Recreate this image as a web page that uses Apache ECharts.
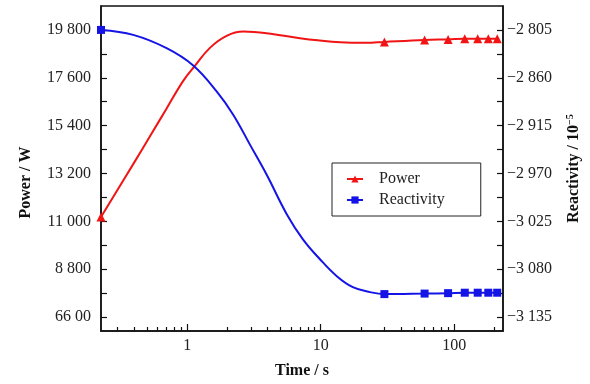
<!DOCTYPE html>
<html>
<head>
<meta charset="utf-8">
<script src="https://cdn.jsdelivr.net/npm/echarts@6/dist/echarts.min.js"></script>
<style>
  html, body { margin: 0; padding: 0; background: #fff; }
  #main { width: 590px; height: 384px; }
</style>
</head>
<body>
<div id="main"></div>
<script>
// Time samples (s)
const powerTime = [0.226, 0.394, 0.526, 0.701, 0.933, 1.142, 1.479, 1.973, 2.63, 3.93, 6.99, 9.5, 14, 22, 30, 60, 90, 120, 150, 180, 210];
const powerValues = [11200, 13630, 14910, 16190, 17460, 18150, 18975, 19525, 19722, 19650, 19420, 19320, 19230, 19205, 19250, 19340, 19365, 19390, 19390, 19390, 19390];

const reactTime = [0.226, 0.394, 0.701, 1.109, 1.661, 2.21, 2.95, 3.93, 5.58, 7.36, 9.87, 13.2, 17.4, 23.4, 30, 60, 90, 120, 150, 180, 210];
const reactValues = [-2805, -2810.7, -2826, -2845.9, -2875.7, -2902.4, -2936.8, -2971.1, -3017, -3045.6, -3068.5, -3088, -3100.6, -3106.3, -3108.6, -3108, -3107.5, -3107, -3107, -3107, -3107];

// times that carry a marker
const markerTimes = [0.226, 30, 60, 90, 120, 150, 180, 210];

const xMajorTicks = [1, 10, 100];
const xMajorLabels = ['1', '10', '100'];
const xMinorTicks = [0.3, 0.4, 0.5, 0.6, 0.7, 0.8, 0.9, 2, 3, 4, 5, 6, 7, 8, 9, 20, 30, 40, 50, 60, 70, 80, 90, 200];

const powerTicks = [6600, 8800, 11000, 13200, 15400, 17600, 19800];
const powerLabels = ['66 00', '8 800', '11 000', '13 200', '15 400', '17 600', '19 800'];
const powerMinorTicks = [7700, 9900, 12100, 14300, 16500, 18700];

const reactTicks = [-3135, -3080, -3025, -2970, -2915, -2860, -2805];
const reactLabels = ['\u22123 135', '\u22123 080', '\u22123 025', '\u22122 970', '\u22122 915', '\u22122 860', '\u22122 805'];
const reactMinorTicks = [-3107.5, -3052.5, -2997.5, -2942.5, -2887.5, -2832.5];

const RED = '#f01414';
const BLUE = '#1414e6';
const FONT = 'Liberation Serif';

const toData = (times, values) =>
  times.map((t, i) => ({
    value: [t, values[i]],
    symbol: markerTimes.includes(t) ? undefined : 'none',
  }));

const chart = echarts.init(document.getElementById('main'), null, { renderer: 'canvas' });

const axisLabelStyle = { fontFamily: FONT, fontSize: 16, color: '#222' };

const option = {
  animation: false,
  backgroundColor: '#fff',
  grid: {
    left: 101,
    right: 87,
    top: 6,
    bottom: 52,
    show: true,
    borderColor: '#111',
    borderWidth: 1.5,
  },
  legend: {
    orient: 'vertical',
    left: 332,
    top: 163,
    padding: [8, 36, 8, 14],
    borderColor: '#222',
    borderWidth: 1,
    itemWidth: 16,
    itemHeight: 9,
    itemGap: 5,
    textStyle: { fontFamily: FONT, fontSize: 16, color: '#222', padding: [0, 0, 0, 11], lineHeight: 16 },
    data: ['Power', 'Reactivity'],
  },
  xAxis: [
    {
      type: 'log',
      min: 0.226,
      max: 232,
      name: 'Time / s',
      nameLocation: 'middle',
      nameGap: 32,
      nameTextStyle: { fontFamily: FONT, fontSize: 16, fontWeight: 'bold', color: '#111' },
      axisLine: { lineStyle: { color: '#111', width: 1.5 } },
      axisTick: { inside: true, length: 7, customValues: xMajorTicks, lineStyle: { color: '#111', width: 1.2 } },
      axisLabel: {
        ...axisLabelStyle,
        margin: 7,
        customValues: xMajorTicks,
        formatter: (v) => xMajorLabels[xMajorTicks.indexOf(Math.round(v))] ?? '',
      },
      splitLine: { show: false },
      minorTick: { show: false },
    },
    {
      type: 'log',
      min: 0.226,
      max: 232,
      position: 'bottom',
      axisLine: { show: false },
      axisTick: { inside: true, length: 4, customValues: xMinorTicks, lineStyle: { color: '#111', width: 1.2 } },
      axisLabel: { show: false },
      splitLine: { show: false },
    },
  ],
  yAxis: [
    {
      type: 'value',
      min: 5958,
      max: 20900,
      position: 'left',
      name: 'Power / W',
      nameLocation: 'middle',
      nameRotate: 90,
      nameGap: 67,
      nameTextStyle: { fontFamily: FONT, fontSize: 16, fontWeight: 'bold', color: '#111', padding: [0, 28, 0, 0] },
      axisLine: { show: true, lineStyle: { color: '#111', width: 1.5 } },
      axisTick: { show: true, inside: true, length: 6, customValues: powerTicks.concat(powerMinorTicks), lineStyle: { color: '#111', width: 1.2 } },
      axisLabel: {
        ...axisLabelStyle,
        margin: 10,
        customValues: powerTicks,
        formatter: (v) => powerLabels[powerTicks.indexOf(Math.round(v))] ?? '',
      },
      splitLine: { show: false },
    },
    {
      type: 'value',
      min: -3151,
      max: -2777.5,
      position: 'right',
      name: '{b|Reactivity / 10}{sup|\u22125}',
      nameLocation: 'middle',
      nameRotate: 90,
      nameGap: 62,
      nameTextStyle: {
        rich: {
          b: { fontFamily: FONT, fontSize: 16, fontWeight: 'bold', color: '#111', lineHeight: 18 },
          sup: { fontFamily: FONT, fontSize: 10, fontWeight: 'bold', color: '#111', verticalAlign: 'top', lineHeight: 18 },
        },
      },
      axisLine: { show: true, lineStyle: { color: '#111', width: 1.5 } },
      axisTick: { show: true, inside: true, length: 6, customValues: reactTicks.concat(reactMinorTicks), lineStyle: { color: '#111', width: 1.2 } },
      axisLabel: {
        ...axisLabelStyle,
        margin: 4,
        customValues: reactTicks,
        formatter: (v) => reactLabels[reactTicks.indexOf(Math.round(v * 10) / 10)] ?? '',
      },
      splitLine: { show: false },
    },
  ],
  series: [
    {
      name: 'Power',
      type: 'line',
      xAxisIndex: 0,
      yAxisIndex: 0,
      data: toData(powerTime, powerValues),
      smooth: 0.4,
      symbol: 'triangle',
      symbolSize: 9,
      color: RED,
      lineStyle: { width: 2, color: RED },
      itemStyle: { color: RED },
      z: 3,
    },
    {
      name: 'Reactivity',
      type: 'line',
      xAxisIndex: 0,
      yAxisIndex: 1,
      data: toData(reactTime, reactValues),
      smooth: 0.4,
      symbol: 'rect',
      symbolSize: 8,
      color: BLUE,
      lineStyle: { width: 2, color: BLUE },
      itemStyle: { color: BLUE },
      z: 3,
    },
  ],
};

chart.setOption(option);
</script>
</body>
</html>
